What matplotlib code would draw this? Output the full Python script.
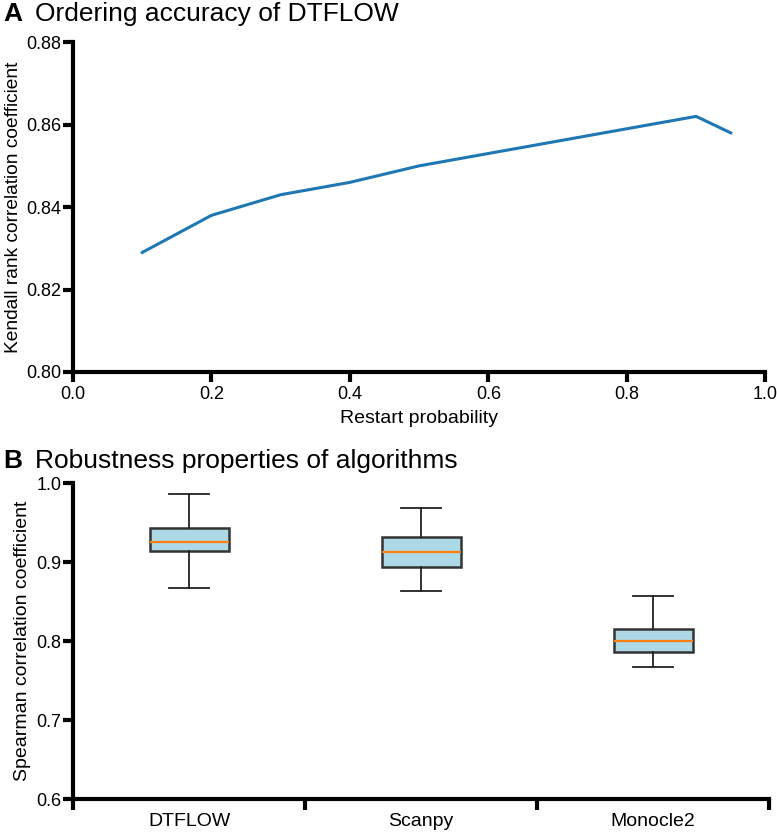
import matplotlib
matplotlib.use("Agg")
import matplotlib.pyplot as plt
from matplotlib.ticker import FormatStrFormatter, FixedLocator

plt.rcParams['font.family'] = ['Liberation Sans', 'DejaVu Sans']

# Panel A data
restart_prob = [0.1, 0.2, 0.3, 0.4, 0.5, 0.6, 0.7, 0.8, 0.9, 0.95]
kendall = [0.829, 0.838, 0.843, 0.846, 0.850, 0.853, 0.856, 0.859, 0.862, 0.858]

# Panel B data (box statistics)
methods = ['DTFLOW', 'Scanpy', 'Monocle2']
whislo = [0.868, 0.864, 0.767]
q1 = [0.914, 0.894, 0.786]
med = [0.926, 0.913, 0.800]
q3 = [0.944, 0.932, 0.816]
whishi = [0.987, 0.969, 0.857]

fig = plt.figure(figsize=(7.77, 8.35), dpi=100)

spine_lw = 3.0
tick_kw = dict(direction='out', length=7, width=3.0, labelsize=13, pad=1.5, color='black')

# ---------- Panel A ----------
ax1 = fig.add_axes([0.094, 0.5545, 0.891, 0.395])
ax1.plot(restart_prob, kendall, color='#1f77b4', linewidth=2.2)
ax1.set_xlim(0.0, 1.0)
ax1.set_ylim(0.80, 0.88)
ax1.set_xticks([0.0, 0.2, 0.4, 0.6, 0.8, 1.0])
ax1.set_yticks([0.80, 0.82, 0.84, 0.86, 0.88])
ax1.xaxis.set_major_formatter(FormatStrFormatter('%.1f'))
ax1.yaxis.set_major_formatter(FormatStrFormatter('%.2f'))
ax1.set_xlabel('Restart probability', fontsize=14, labelpad=5)
ax1.set_ylabel('Kendall rank correlation coefficient', fontsize=13.8, labelpad=3)
for s in ['top', 'right']:
    ax1.spines[s].set_visible(False)
for s in ['left', 'bottom']:
    ax1.spines[s].set_linewidth(spine_lw)
ax1.tick_params(**tick_kw)
ax1.tick_params(axis='x', pad=3)

fig.text(0.004, 0.975, 'A', fontsize=19, fontweight='bold', va='baseline')
fig.text(0.045, 0.975, 'Ordering accuracy of DTFLOW', fontsize=19, va='baseline')

# ---------- Panel B ----------
ax2 = fig.add_axes([0.094, 0.0431, 0.896, 0.378])
stats = []
for i in range(len(methods)):
    stats.append(dict(label=methods[i], whislo=whislo[i], q1=q1[i], med=med[i],
                      q3=q3[i], whishi=whishi[i], fliers=[]))
ax2.bxp(stats, positions=[1, 2, 3], widths=0.34, patch_artist=True, showfliers=False,
        boxprops=dict(facecolor='#add8e6', edgecolor='#333333', linewidth=1.8),
        medianprops=dict(color='#ff7f0e', linewidth=1.6),
        whiskerprops=dict(color='#222222', linewidth=1.3),
        capprops=dict(color='#222222', linewidth=1.3))
ax2.set_xlim(0.5, 3.5)
ax2.set_ylim(0.6, 1.0)
ax2.set_yticks([0.6, 0.7, 0.8, 0.9, 1.0])
ax2.yaxis.set_major_formatter(FormatStrFormatter('%.1f'))
ax2.set_xticks([1, 2, 3])
ax2.set_xticklabels(methods)
ax2.xaxis.set_minor_locator(FixedLocator([0.5, 1.5, 2.5, 3.5]))
ax2.tick_params(axis='x', which='major', length=0, labelsize=14, pad=10)
ax2.tick_params(axis='x', which='minor', direction='out', length=8, width=3.0)
ax2.tick_params(axis='y', **tick_kw)
ax2.set_ylabel('Spearman correlation coefficient', fontsize=14, labelpad=4)
for s in ['top', 'right']:
    ax2.spines[s].set_visible(False)
for s in ['left', 'bottom']:
    ax2.spines[s].set_linewidth(spine_lw)

fig.text(0.004, 0.4395, 'B', fontsize=19, fontweight='bold', va='baseline')
fig.text(0.045, 0.4395, 'Robustness properties of algorithms', fontsize=19, va='baseline')

fig.savefig('out.png', dpi=100)
